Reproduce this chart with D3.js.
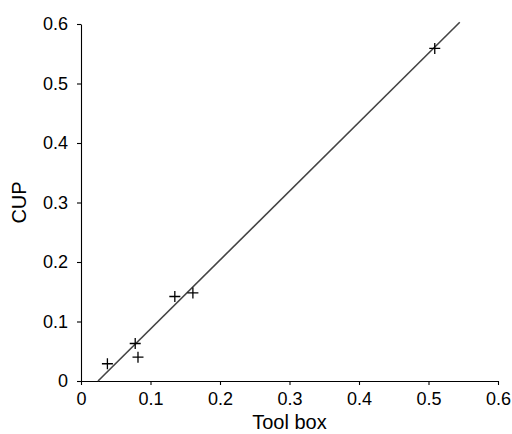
<!DOCTYPE html>
<html>
<head>
<meta charset="utf-8">
<script src="https://cdn.jsdelivr.net/npm/d3@7"></script>
<style>
  html, body { margin: 0; padding: 0; background: #fff; }
  svg { display: block; font-family: "Liberation Sans", Arial, sans-serif; }
</style>
</head>
<body>
<svg id="chart" width="512" height="434"></svg>
<script>
// Data
const pointX = [0.038, 0.078, 0.082, 0.135, 0.161, 0.509];
const pointY = [0.029, 0.063, 0.040, 0.142, 0.148, 0.559];
const fitX = [0.0245, 0.545];
const fitY = [0, 0.603];
const tickValues = [0, 0.1, 0.2, 0.3, 0.4, 0.5, 0.6];
const xLabel = "Tool box";
const yLabel = "CUP";

const width = 512;
const height = 434;
const margin = { top: 24, right: 14, bottom: 53, left: 81 };

const svg = d3.select("#chart");

const x = d3.scaleLinear()
  .domain([0, 0.6])
  .range([margin.left, width - margin.right]);

const y = d3.scaleLinear()
  .domain([0, 0.6])
  .range([height - margin.bottom, margin.top]);

const fmt = d => d === 0 ? "0" : d3.format(".1f")(d);

// Axes
const xAxis = svg.append("g")
  .attr("transform", `translate(0, ${y(0)})`)
  .call(d3.axisBottom(x).tickValues(tickValues).tickFormat(fmt).tickSize(4).tickSizeOuter(0).tickPadding(6));

const yAxis = svg.append("g")
  .attr("transform", `translate(${x(0)}, 0)`)
  .call(d3.axisLeft(y).tickValues(tickValues).tickFormat(fmt).tickSize(4).tickSizeOuter(0).tickPadding(9));

[xAxis, yAxis].forEach(g => {
  g.selectAll("path, line").attr("stroke", "#000").attr("stroke-width", 1.1);
  g.selectAll("text")
    .attr("fill", "#000")
    .style("font-size", "18px")
    .style("font-family", "\"Liberation Sans\", Arial, sans-serif");
});
xAxis.selectAll("text").attr("dy", "0.75em");

// Axis titles
svg.append("text")
  .attr("x", (x(0) + x(0.6)) / 2)
  .attr("y", 429)
  .attr("text-anchor", "middle")
  .style("font-size", "20px")
  .attr("fill", "#000")
  .text(xLabel);

svg.append("text")
  .attr("transform", `translate(26, ${(y(0) + y(0.6)) / 2}) rotate(-90)`)
  .attr("text-anchor", "middle")
  .style("font-size", "20px")
  .attr("fill", "#000")
  .text(yLabel);

// Fitted line
svg.append("path")
  .datum(d3.zip(fitX, fitY))
  .attr("fill", "none")
  .attr("stroke", "#444")
  .attr("stroke-width", 1.6)
  .attr("d", d3.line().x(d => x(d[0])).y(d => y(d[1])));

// Plus markers
const arm = 5.5;
svg.append("g")
  .selectAll("path")
  .data(d3.zip(pointX, pointY))
  .join("path")
  .attr("transform", d => `translate(${x(d[0])}, ${y(d[1])})`)
  .attr("d", `M${-arm},0H${arm}M0,${-arm}V${arm}`)
  .attr("stroke", "#000")
  .attr("stroke-width", 1.3)
  .attr("fill", "none");
</script>
</body>
</html>
